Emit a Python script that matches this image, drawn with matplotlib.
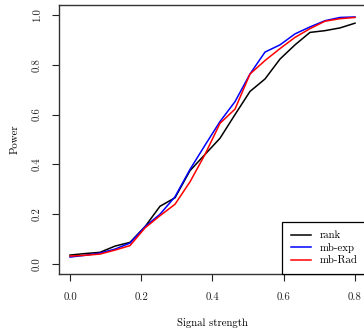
import numpy as np
import matplotlib
matplotlib.use("Agg")
import matplotlib.pyplot as plt

signal = np.linspace(0, 0.8, 20)
rank = [0.036, 0.042, 0.047, 0.072, 0.087, 0.15, 0.232, 0.266, 0.375, 0.44,
        0.505, 0.60, 0.693, 0.743, 0.823, 0.88, 0.93, 0.937, 0.948, 0.967]
mb_exp = [0.028, 0.035, 0.044, 0.06, 0.084, 0.15, 0.20, 0.27, 0.38, 0.477,
          0.572, 0.652, 0.763, 0.851, 0.88, 0.924, 0.952, 0.977, 0.99, 0.992]
mb_rad = [0.032, 0.035, 0.04, 0.056, 0.074, 0.145, 0.194, 0.24, 0.33, 0.44,
          0.565, 0.622, 0.763, 0.817, 0.865, 0.91, 0.945, 0.975, 0.985, 0.99]
series = [("rank", rank, "black"), ("mb-exp", mb_exp, "blue"), ("mb-Rad", mb_rad, "red")]
xticks = [0.0, 0.2, 0.4, 0.6, 0.8]
yticks = [0.0, 0.2, 0.4, 0.6, 0.8, 1.0]

plt.rcParams['font.family'] = ['cmr10', 'DejaVu Serif']
plt.rcParams['axes.formatter.use_mathtext'] = True

fig = plt.figure(figsize=(3.64, 3.32), dpi=100)
ax = fig.add_axes([58.6/364, 58/332, 307.8/364, 269/332])
for name, vals, col in series:
    ax.plot(signal, vals, color=col, lw=1.1, label=name)

ax.set_xlim(-0.032, 0.832)
ax.set_ylim(-0.04, 1.04)
ax.set_xticks(xticks)
ax.set_xticklabels([f"{t:.1f}" for t in xticks])
ax.set_yticks(yticks)
ax.set_yticklabels([f"{t:.1f}" for t in yticks], rotation=90, va='center')
ax.tick_params(direction='out', length=5, width=0.8, labelsize=7.8, pad=7, colors='#222222')
ax.tick_params(axis='x', pad=8)
for s in ax.spines.values():
    s.set_linewidth(1.0)
    s.set_color('#333333')
ax.set_xlabel("Signal strength", fontsize=7.8, labelpad=12)
ax.set_ylabel("Power", fontsize=7.8, labelpad=9)

leg = ax.legend(loc='lower right', borderaxespad=0, fancybox=False, framealpha=1,
                edgecolor='black', fontsize=7.8, handlelength=1.9, handletextpad=0.8,
                labelspacing=0.25, borderpad=0.8)
leg.get_frame().set_linewidth(0.9)

fig.savefig("out.png", dpi=100)
